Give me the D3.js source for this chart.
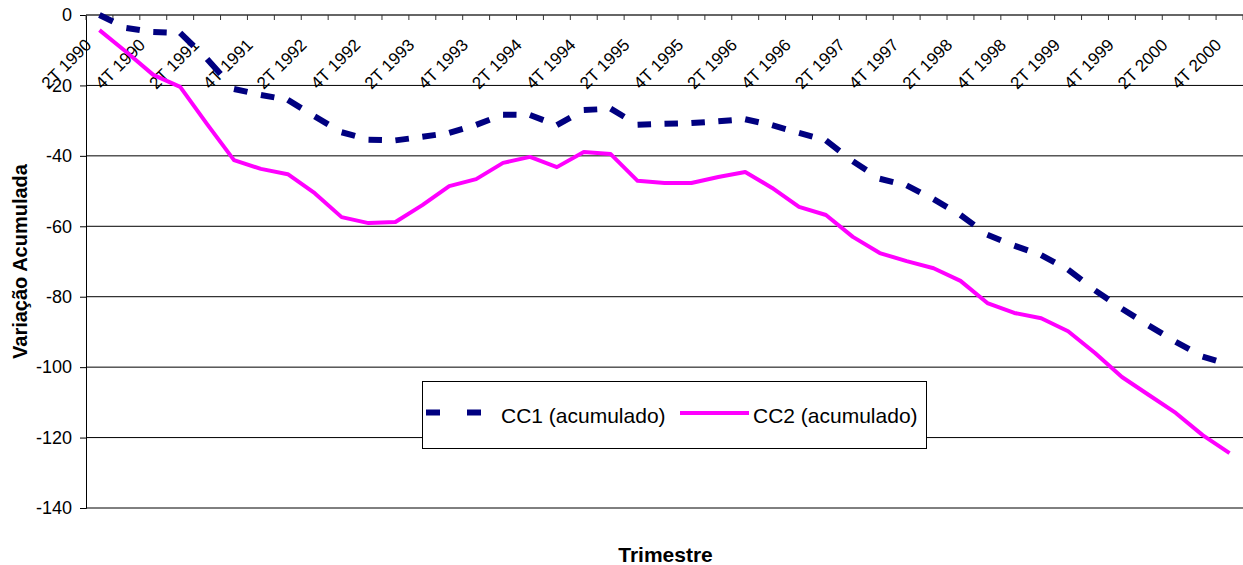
<!DOCTYPE html>
<html>
<head>
<meta charset="utf-8">
<script src="https://cdn.jsdelivr.net/npm/d3@7"></script>
<style>
  html, body { margin: 0; padding: 0; background: #fff; }
  svg { display: block; font-family: "Liberation Sans", Arial, sans-serif; }
</style>
</head>
<body>
<svg id="chart" width="1243" height="565"></svg>
<script>
const categories = [
  "2T 1990","3T 1990","4T 1990",
  "1T 1991","2T 1991","3T 1991","4T 1991",
  "1T 1992","2T 1992","3T 1992","4T 1992",
  "1T 1993","2T 1993","3T 1993","4T 1993",
  "1T 1994","2T 1994","3T 1994","4T 1994",
  "1T 1995","2T 1995","3T 1995","4T 1995",
  "1T 1996","2T 1996","3T 1996","4T 1996",
  "1T 1997","2T 1997","3T 1997","4T 1997",
  "1T 1998","2T 1998","3T 1998","4T 1998",
  "1T 1999","2T 1999","3T 1999","4T 1999",
  "1T 2000","2T 2000","3T 2000","4T 2000"
];
const cc1 = [
  0, -3.7, -4.8, -5.1, -12.5, -21.0, -22.7, -24.1, -28.8, -33.3, -35.4,
  -35.6, -34.6, -33.5, -31.2, -28.3, -28.4, -31.3, -27.0, -26.6, -31.2,
  -30.9, -30.7, -30.2, -29.6, -31.3, -33.5, -35.6, -41.5, -46.5, -48.4,
  -52.3, -56.8, -62.4, -65.5, -68.2, -72.3, -78.2, -83.4, -88.2, -92.8,
  -97.0, -99.3
];
const cc2 = [
  -4.3, -10.5, -17.0, -20.4, -31.0, -41.2, -43.7, -45.2, -50.6, -57.4, -59.1,
  -58.8, -54.0, -48.6, -46.6, -42.0, -40.3, -43.2, -38.9, -39.5, -47.1,
  -47.7, -47.7, -46.0, -44.6, -49.1, -54.5, -56.8, -63.0, -67.6, -69.9,
  -71.9, -75.5, -81.8, -84.6, -86.1, -89.8, -96.0, -102.8, -107.9, -113.0,
  -119.3, -124.4
];
const yTicks = [0, -20, -40, -60, -80, -100, -120, -140];
const seriesNames = ["CC1 (acumulado)", "CC2 (acumulado)"];
const yTitle = "Variação Acumulada";
const xTitle = "Trimestre";

const svg = d3.select("#chart");
const pLeft = 86, pRight = 1243, pTop = 15, pBottom = 508;

const x = d3.scaleBand().domain(categories).range([pLeft, pRight]).padding(0);
const y = d3.scaleLinear().domain([-140, 0]).range([pBottom, pTop]);
const cx = c => x(c) + x.bandwidth() / 2;

// gridlines
svg.append("g").selectAll("line").data(yTicks.filter(v => v !== 0)).join("line")
  .attr("x1", pLeft).attr("x2", pRight)
  .attr("y1", d => y(d)).attr("y2", d => y(d))
  .attr("stroke", "#000").attr("stroke-width", 1);

// y axis
const yAxis = d3.axisLeft(y).tickValues(yTicks).tickSize(6).tickPadding(8).tickFormat(d3.format("d"));
const gy = svg.append("g").attr("transform", `translate(${pLeft},0)`).call(yAxis);
gy.select(".domain").attr("stroke", "#000");
gy.selectAll(".tick line").attr("stroke", "#000");
gy.selectAll(".tick text").attr("font-size", 18).attr("fill", "#000")
  .attr("font-family", "Liberation Sans, Arial, sans-serif")
  .text(d => String(d));

// top category axis (at value 0)
const boundaries = d3.range(categories.length + 1).map(i => pLeft + i * x.bandwidth());
svg.append("line").attr("x1", pLeft).attr("x2", pRight).attr("y1", y(0)).attr("y2", y(0))
  .attr("stroke", "#333").attr("stroke-width", 1.5);
svg.append("g").selectAll("line").data(boundaries).join("line")
  .attr("x1", d => d).attr("x2", d => d)
  .attr("y1", y(0)).attr("y2", y(0) + 5)
  .attr("stroke", "#333").attr("stroke-width", 1);

svg.append("g").selectAll("text")
  .data(categories.filter((c, i) => i % 2 === 0)).join("text")
  .attr("transform", d => `translate(${cx(d) - 7},${y(0) + 31}) rotate(-45)`)
  .attr("text-anchor", "end")
  .attr("font-size", 17)
  .attr("fill", "#000")
  .text(d => d);

// CC2 line
const line = d3.line().x((d, i) => cx(categories[i])).y(d => y(d));
svg.append("path").datum(cc2).attr("d", line)
  .attr("fill", "none").attr("stroke", "#FF00FF").attr("stroke-width", 4)
  .attr("stroke-linejoin", "round");

// CC1 dashed: each segment restarts dash pattern (half dash, half gap)
const segs = d3.range(cc1.length - 1).map(i => ({
  x1: cx(categories[i]), y1: y(cc1[i]), x2: cx(categories[i + 1]), y2: y(cc1[i + 1])
}));
svg.append("g").selectAll("line").data(segs).join("line")
  .attr("x1", d => d.x1).attr("y1", d => d.y1).attr("x2", d => d.x2).attr("y2", d => d.y2)
  .attr("stroke", "#000080").attr("stroke-width", 6).attr("stroke-linecap", "butt")
  .attr("stroke-dasharray", d => {
    const L = Math.hypot(d.x2 - d.x1, d.y2 - d.y1);
    return `${L * 0.5},${L * 0.5}`;
  });

// legend
const lg = svg.append("g");
lg.append("rect").attr("x", 422.5).attr("y", 381.5).attr("width", 504).attr("height", 67)
  .attr("fill", "#fff").attr("stroke", "#000").attr("stroke-width", 1);
lg.append("line").attr("x1", 426).attr("x2", 481).attr("y1", 412.5).attr("y2", 412.5)
  .attr("stroke", "#000080").attr("stroke-width", 6).attr("stroke-dasharray", "14,27");
lg.append("text").attr("x", 501).attr("y", 423).attr("font-size", 21).attr("fill", "#000").text(seriesNames[0]);
lg.append("line").attr("x1", 680).attr("x2", 749).attr("y1", 413).attr("y2", 413)
  .attr("stroke", "#FF00FF").attr("stroke-width", 4);
lg.append("text").attr("x", 753).attr("y", 423).attr("font-size", 21).attr("fill", "#000").text(seriesNames[1]);

// axis titles
svg.append("text").attr("transform", `translate(27,${(pTop + pBottom) / 2}) rotate(-90)`)
  .attr("text-anchor", "middle").attr("font-size", 20).attr("font-weight", "bold")
  .attr("fill", "#000").text(yTitle);
svg.append("text").attr("x", (pLeft + pRight) / 2 + 1).attr("y", 562)
  .attr("text-anchor", "middle").attr("font-size", 21).attr("font-weight", "bold")
  .attr("fill", "#000").text(xTitle);
</script>
</body>
</html>
